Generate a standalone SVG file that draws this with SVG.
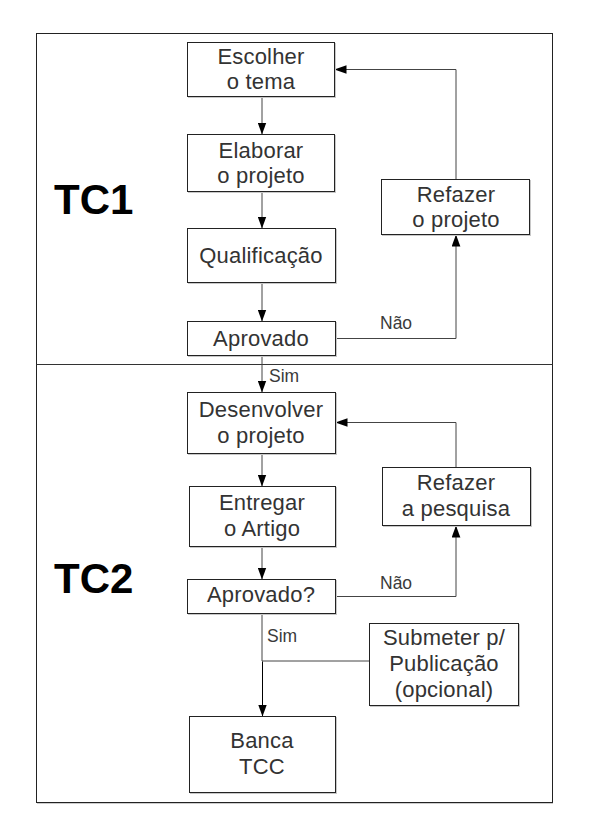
<svg xmlns="http://www.w3.org/2000/svg" width="597" height="838" viewBox="0 0 597 838">
<style>
.box{fill:#fff;stroke:#222;stroke-width:1}
.sh{fill:none;stroke:#c8c8c8;stroke-width:1}
.t{font-family:"Liberation Sans",Arial,sans-serif;font-size:22px;letter-spacing:0.2px;fill:#333;text-anchor:middle}
.lbl{font-family:"Liberation Sans",Arial,sans-serif;font-size:17.5px;fill:#3a3a3a}
.big{font-family:"Liberation Sans",Arial,sans-serif;font-size:42px;font-weight:bold;fill:#000}
.c{fill:none;stroke:#444;stroke-width:1}
.ck{fill:none;stroke:#000;stroke-width:1}
</style>
<defs>
<marker id="ah" markerUnits="userSpaceOnUse" markerWidth="12" markerHeight="9" viewBox="0 0 11 8" refX="11" refY="4" orient="auto">
<path d="M0,0 L11,4 L0,8 z" fill="#000"/>
</marker>
</defs>
<g id="frame">
<rect x="36.5" y="33.5" width="516" height="769" fill="none" stroke="#222"/>
<line x1="37" y1="803.5" x2="553" y2="803.5" stroke="#ccc"/>
<line x1="36.5" y1="364.5" x2="552.5" y2="364.5" stroke="#333"/>
<text class="big" x="54" y="214">TC1</text>
<text class="big" x="54" y="593">TC2</text>
</g>
<g id="connectors">
<path class="c" d="M262 96.5 V134.5" marker-end="url(#ah)"/>
<path class="c" d="M262 191.5 V228.5" marker-end="url(#ah)"/>
<path class="c" d="M262 282.5 V321.5" marker-end="url(#ah)"/>
<path class="c" d="M335.5 338.5 H456 V234.5" marker-end="url(#ah)"/>
<path class="c" d="M456 179.5 V69.5 H334.5" marker-end="url(#ah)"/>
<path class="c" d="M262 355.5 V392.5" marker-end="url(#ah)"/>
<path class="c" d="M262 453.5 V486.5" marker-end="url(#ah)"/>
<path class="c" d="M262 546.5 V579.5" marker-end="url(#ah)"/>
<path class="c" d="M335.5 596.5 H456 V525.5" marker-end="url(#ah)"/>
<path class="c" d="M456 467.5 V422.5 H335.5" marker-end="url(#ah)"/>
<path class="c" d="M262 613.5 V661 M262 661 H369.5"/>
<path class="ck" d="M262.5 661.5 V716.5" marker-end="url(#ah)"/>
<text class="lbl" x="380" y="329">Não</text>
<text class="lbl" x="269" y="382">Sim</text>
<text class="lbl" x="380" y="589">Não</text>
<text class="lbl" x="267" y="642">Sim</text>
</g>
<g id="n1">
<rect class="sh" x="188.5" y="43.5" width="147" height="54"/>
<rect class="box" x="187.5" y="42.5" width="147" height="54"/>
<text class="t" x="261" y="64">Escolher</text>
<text class="t" x="261" y="89">o tema</text>
</g>
<g id="n2">
<rect class="sh" x="188.5" y="135.5" width="147" height="57"/>
<rect class="box" x="187.5" y="134.5" width="147" height="57"/>
<text class="t" x="261" y="158">Elaborar</text>
<text class="t" x="261" y="183">o projeto</text>
</g>
<g id="n3">
<rect class="sh" x="188.5" y="229.5" width="148" height="54"/>
<rect class="box" x="187.5" y="228.5" width="148" height="54"/>
<text class="t" x="261" y="263">Qualificação</text>
</g>
<g id="n4">
<rect class="sh" x="188.5" y="322.5" width="148" height="34"/>
<rect class="box" x="187.5" y="321.5" width="148" height="34"/>
<text class="t" x="261" y="346">Aprovado</text>
</g>
<g id="n5">
<rect class="sh" x="382.5" y="180.5" width="148" height="55"/>
<rect class="box" x="381.5" y="179.5" width="148" height="55"/>
<text class="t" x="456" y="202">Refazer</text>
<text class="t" x="456" y="227">o projeto</text>
</g>
<g id="n6">
<rect class="sh" x="188.5" y="393.5" width="148" height="61"/>
<rect class="box" x="187.5" y="392.5" width="148" height="61"/>
<text class="t" x="261" y="417">Desenvolver</text>
<text class="t" x="261" y="443">o projeto</text>
</g>
<g id="n7">
<rect class="sh" x="190.5" y="487.5" width="146" height="60"/>
<rect class="box" x="189.5" y="486.5" width="146" height="60"/>
<text class="t" x="262" y="510">Entregar</text>
<text class="t" x="262" y="536">o Artigo</text>
</g>
<g id="n8">
<rect class="sh" x="383.5" y="468.5" width="148" height="58"/>
<rect class="box" x="382.5" y="467.5" width="148" height="58"/>
<text class="t" x="456" y="490">Refazer</text>
<text class="t" x="456" y="516">a pesquisa</text>
</g>
<g id="n9">
<rect class="sh" x="188.5" y="580.5" width="148" height="34"/>
<rect class="box" x="187.5" y="579.5" width="148" height="34"/>
<text class="t" x="261" y="602">Aprovado?</text>
</g>
<g id="n10">
<rect class="sh" x="370.5" y="624.5" width="149" height="82"/>
<rect class="box" x="369.5" y="623.5" width="149" height="82"/>
<text class="t" x="444" y="645">Submeter p/</text>
<text class="t" x="444" y="671">Publicação</text>
<text class="t" x="444" y="697">(opcional)</text>
</g>
<g id="n11">
<rect class="sh" x="190.5" y="717.5" width="146" height="76"/>
<rect class="box" x="189.5" y="716.5" width="146" height="76"/>
<text class="t" x="262" y="748">Banca</text>
<text class="t" x="262" y="774">TCC</text>
</g>
</svg>
